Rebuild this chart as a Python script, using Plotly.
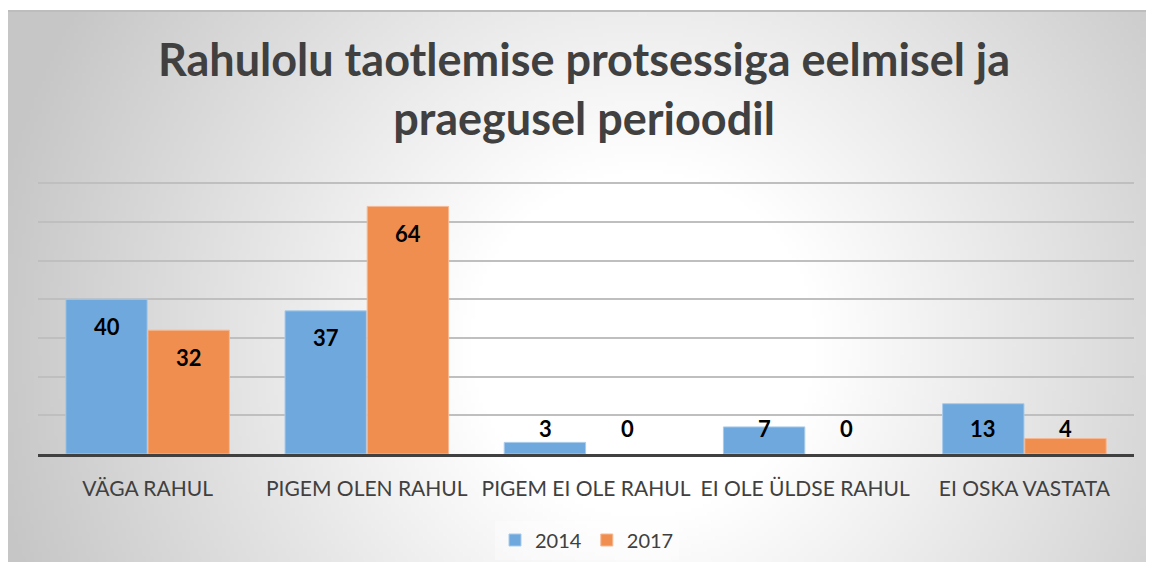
import base64
import struct
import zlib

import plotly.graph_objects as go

categories = ["VÄGA RAHUL", "PIGEM OLEN RAHUL", "PIGEM EI OLE RAHUL",
              "EI OLE ÜLDSE RAHUL", "EI OSKA VASTATA"]
series_names = ["2014", "2017"]
values_2014 = [40, 37, 3, 7, 13]
values_2017 = [32, 64, 0, 0, 4]

title_text = "Rahulolu taotlemise protsessiga eelmisel ja<br>praegusel perioodil"

# page body has an 8px margin on every side; keep the figure inside the window
OFF = 8
W, H = 1154 - 2 * OFF, 570 - 2 * OFF
L, T = 38 - OFF, 182 - OFF
R = W - (1134 - OFF)
B = H - (454 - OFF)


def radial_png(w, h, cx, cy, r0, r1, c_in=255, c_out=198):
    # small grayscale png, stretched by the browser
    rows = b""
    for j in range(h):
        row = bytearray([0])
        for i in range(w):
            d = ((i - cx) ** 2 + (j - cy) ** 2) ** 0.5
            t = min(max((d - r0) / (r1 - r0), 0), 1)
            row.append(int(round(c_in - (c_in - c_out) * t)))
        rows += bytes(row)

    def chunk(tag, data):
        c = struct.pack(">I", len(data)) + tag + data
        return c + struct.pack(">I", zlib.crc32(tag + data) & 0xffffffff)

    png = b"\x89PNG\r\n\x1a\n"
    png += chunk(b"IHDR", struct.pack(">IIBBBBB", w, h, 8, 0, 0, 0, 0))
    png += chunk(b"IDAT", zlib.compress(rows, 9))
    png += chunk(b"IEND", b"")
    return "data:image/png;base64," + base64.b64encode(png).decode()


# background box from figure px (0,3) to the figure corner; quarter scale
bg_w, bg_h = W // 4, (H - 3) // 4
bg = radial_png(bg_w, bg_h, (640 - 8) / 4, (340 - 11) / 4, 170 / 4, 660 / 4)

pw, ph = W - L - R, H - T - B
top_px = 11 - OFF

fig = go.Figure()
fig.add_trace(go.Bar(
    x=categories, y=values_2014, name=series_names[0],
    marker=dict(color="#6FA8DC",
                line=dict(color="#A9CBEB", width=[1 if v else 0 for v in values_2014])),
))
fig.add_trace(go.Bar(
    x=categories, y=values_2017, name=series_names[1],
    marker=dict(color="#EF8E4F",
                line=dict(color="#F6B893", width=[1 if v else 0 for v in values_2017])),
))

# data labels: inside end, kept above the axis for short bars
for vals, shift in [(values_2014, -41), (values_2017, 41)]:
    for cat, v in zip(categories, vals):
        fig.add_annotation(
            x=cat, y=max(v - 7, 6.7), xshift=shift, text=str(v),
            showarrow=False, yanchor="middle",
            font=dict(family="Lato", size=22, color="#000000", weight="bold"),
        )

fig.add_layout_image(
    source=bg, xref="paper", yref="paper",
    x=-L / pw, y=(H - B - top_px) / ph,
    sizex=W / pw, sizey=(H - top_px) / ph,
    sizing="stretch", xanchor="left", yanchor="top", layer="below",
)
fig.add_shape(type="line", xref="paper", yref="paper",
              x0=-L / pw, x1=(W - L) / pw,
              y0=(H - B - top_px) / ph, y1=(H - B - top_px) / ph,
              line=dict(color="#BDBDBD", width=2))

fig.update_layout(
    width=W, height=H,
    margin=dict(l=L, r=R, t=T, b=B),
    paper_bgcolor="white",
    plot_bgcolor="rgba(0,0,0,0)",
    barmode="group", bargap=0.25, bargroupgap=0.01,
    title=dict(text=title_text, x=(584 - OFF) / W, xanchor="center",
               y=1 - (76 - OFF) / H, yanchor="top",
               font=dict(family="Lato", size=45, color="#404040", weight="bold")),
    legend=dict(orientation="h", xref="container", x=(587 - OFF) / W, xanchor="center",
                yref="container", y=1 - (540 - OFF) / H, yanchor="middle",
                bgcolor="rgba(255,255,255,0.35)",
                font=dict(family="Lato", size=20, color="#404040"),
                itemwidth=30, traceorder="normal"),
    showlegend=True,
)
fig.update_xaxes(
    showline=True, linecolor="#404040", linewidth=3,
    showgrid=False, ticks="", ticklabelstandoff=14,
    tickfont=dict(family="Lato", size=21, color="#404040"),
)
fig.update_yaxes(
    range=[0, 70.3], dtick=10, showticklabels=False,
    showgrid=True, gridcolor="#BFBFBF", gridwidth=1.5,
    zeroline=False,
)

fig.write_html("out.html")
